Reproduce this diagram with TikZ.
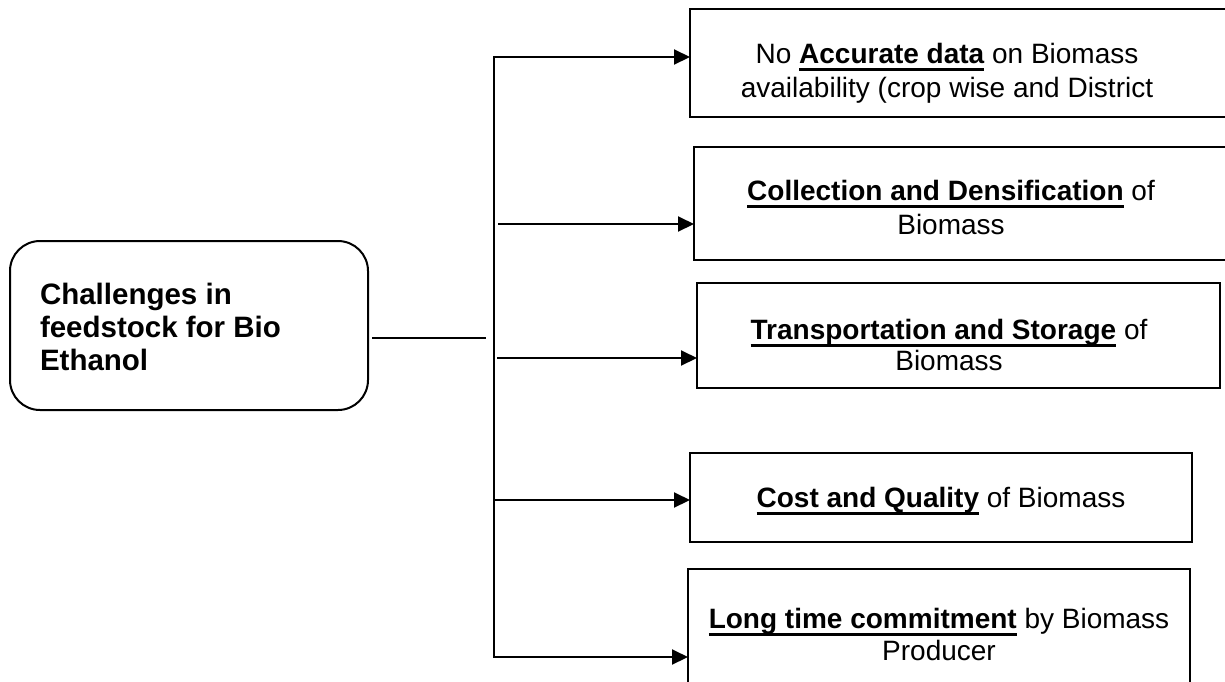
\documentclass[tikz,border=0pt]{standalone}
\usepackage{fontspec}
\setmainfont{Liberation Sans}
\usetikzlibrary{arrows.meta}
% bold phrase with a plain rule under it (the rule crosses descenders)
\newcommand\keyphrase[1]{\setbox0\hbox{\bfseries #1}\rlap{\rule[-3.8pt]{\wd0}{1.5pt}}\box0\relax}
\begin{document}
\begin{tikzpicture}[x=0.5pt,y=-0.5pt,line width=1pt,
  box/.style={draw,inner sep=0pt,outer sep=0pt},
  txt/.style={font=\fontsize{14}{17}\selectfont,align=center,anchor=base,inner sep=0pt},
  link/.style={-{Triangle[length=8pt,width=7.5pt]}}]
\clip (0,0) rectangle (1225,681);

% root box
\node[box,rounded corners=15pt,minimum width=179pt,minimum height=84.5pt] (root) at (189,325.5) {};
\node[font=\fontsize{14.75}{16.5}\selectfont\bfseries,align=left,anchor=base west,inner sep=0pt] (roottext) at (39,370)
  {Challenges in\\feedstock for Bio\\Ethanol};

% challenge boxes
\node[box,minimum width=275pt,minimum height=54pt] (b1) at (965,63) {};
\node[box,minimum width=273pt,minimum height=56.5pt] (b2) at (967,203.5) {};
\node[box,minimum width=261.5pt,minimum height=52.5pt] (b3) at (958.5,335.5) {};
\node[box,minimum width=251pt,minimum height=44.5pt] (b4) at (941,497.5) {};
\node[box,minimum width=251pt,minimum height=75.5pt] (b5) at (939,644.5) {};

% texts, placed by the baseline of their last line
\node[txt] (t1) at (947,97) {No \keyphrase{Accurate data} on Biomass\\availability (crop wise and District};
\node[txt] (t2) at (951,234) {\keyphrase{Collection and Densification} of\\Biomass};
\node[txt,font=\fontsize{14}{15.5}\selectfont] (t3) at (949,370) {\keyphrase{Transportation and Storage} of\\Biomass};
\node[txt] (t4) at (941,507) {\keyphrase{Cost and Quality} of Biomass};
\node[txt,font=\fontsize{14}{16}\selectfont] (t5) at (939,660) {\keyphrase{Long time commitment} by Biomass\\Producer};

% connector points
\coordinate (hs) at (372,338);
\coordinate (he) at (486,338);
\coordinate (top) at (494,57);
\coordinate (bot) at (494,657);
\coordinate (s2) at (498,224);
\coordinate (s3) at (497,358);
\coordinate (s4) at (494,500);

% connectors
\draw (hs) -- (he);
\draw[{Triangle[length=8pt,width=7.5pt]}-{Triangle[length=8pt,width=7.5pt]}]
  (top -| b1.west) -- (top) -- (bot) -- (bot -| b5.west);
\draw[link] (s2) -- (s2 -| b2.west);
\draw[link] (s3) -- (s3 -| b3.west);
\draw[link] (s4) -- (s4 -| b4.west);
\end{tikzpicture}
\end{document}
